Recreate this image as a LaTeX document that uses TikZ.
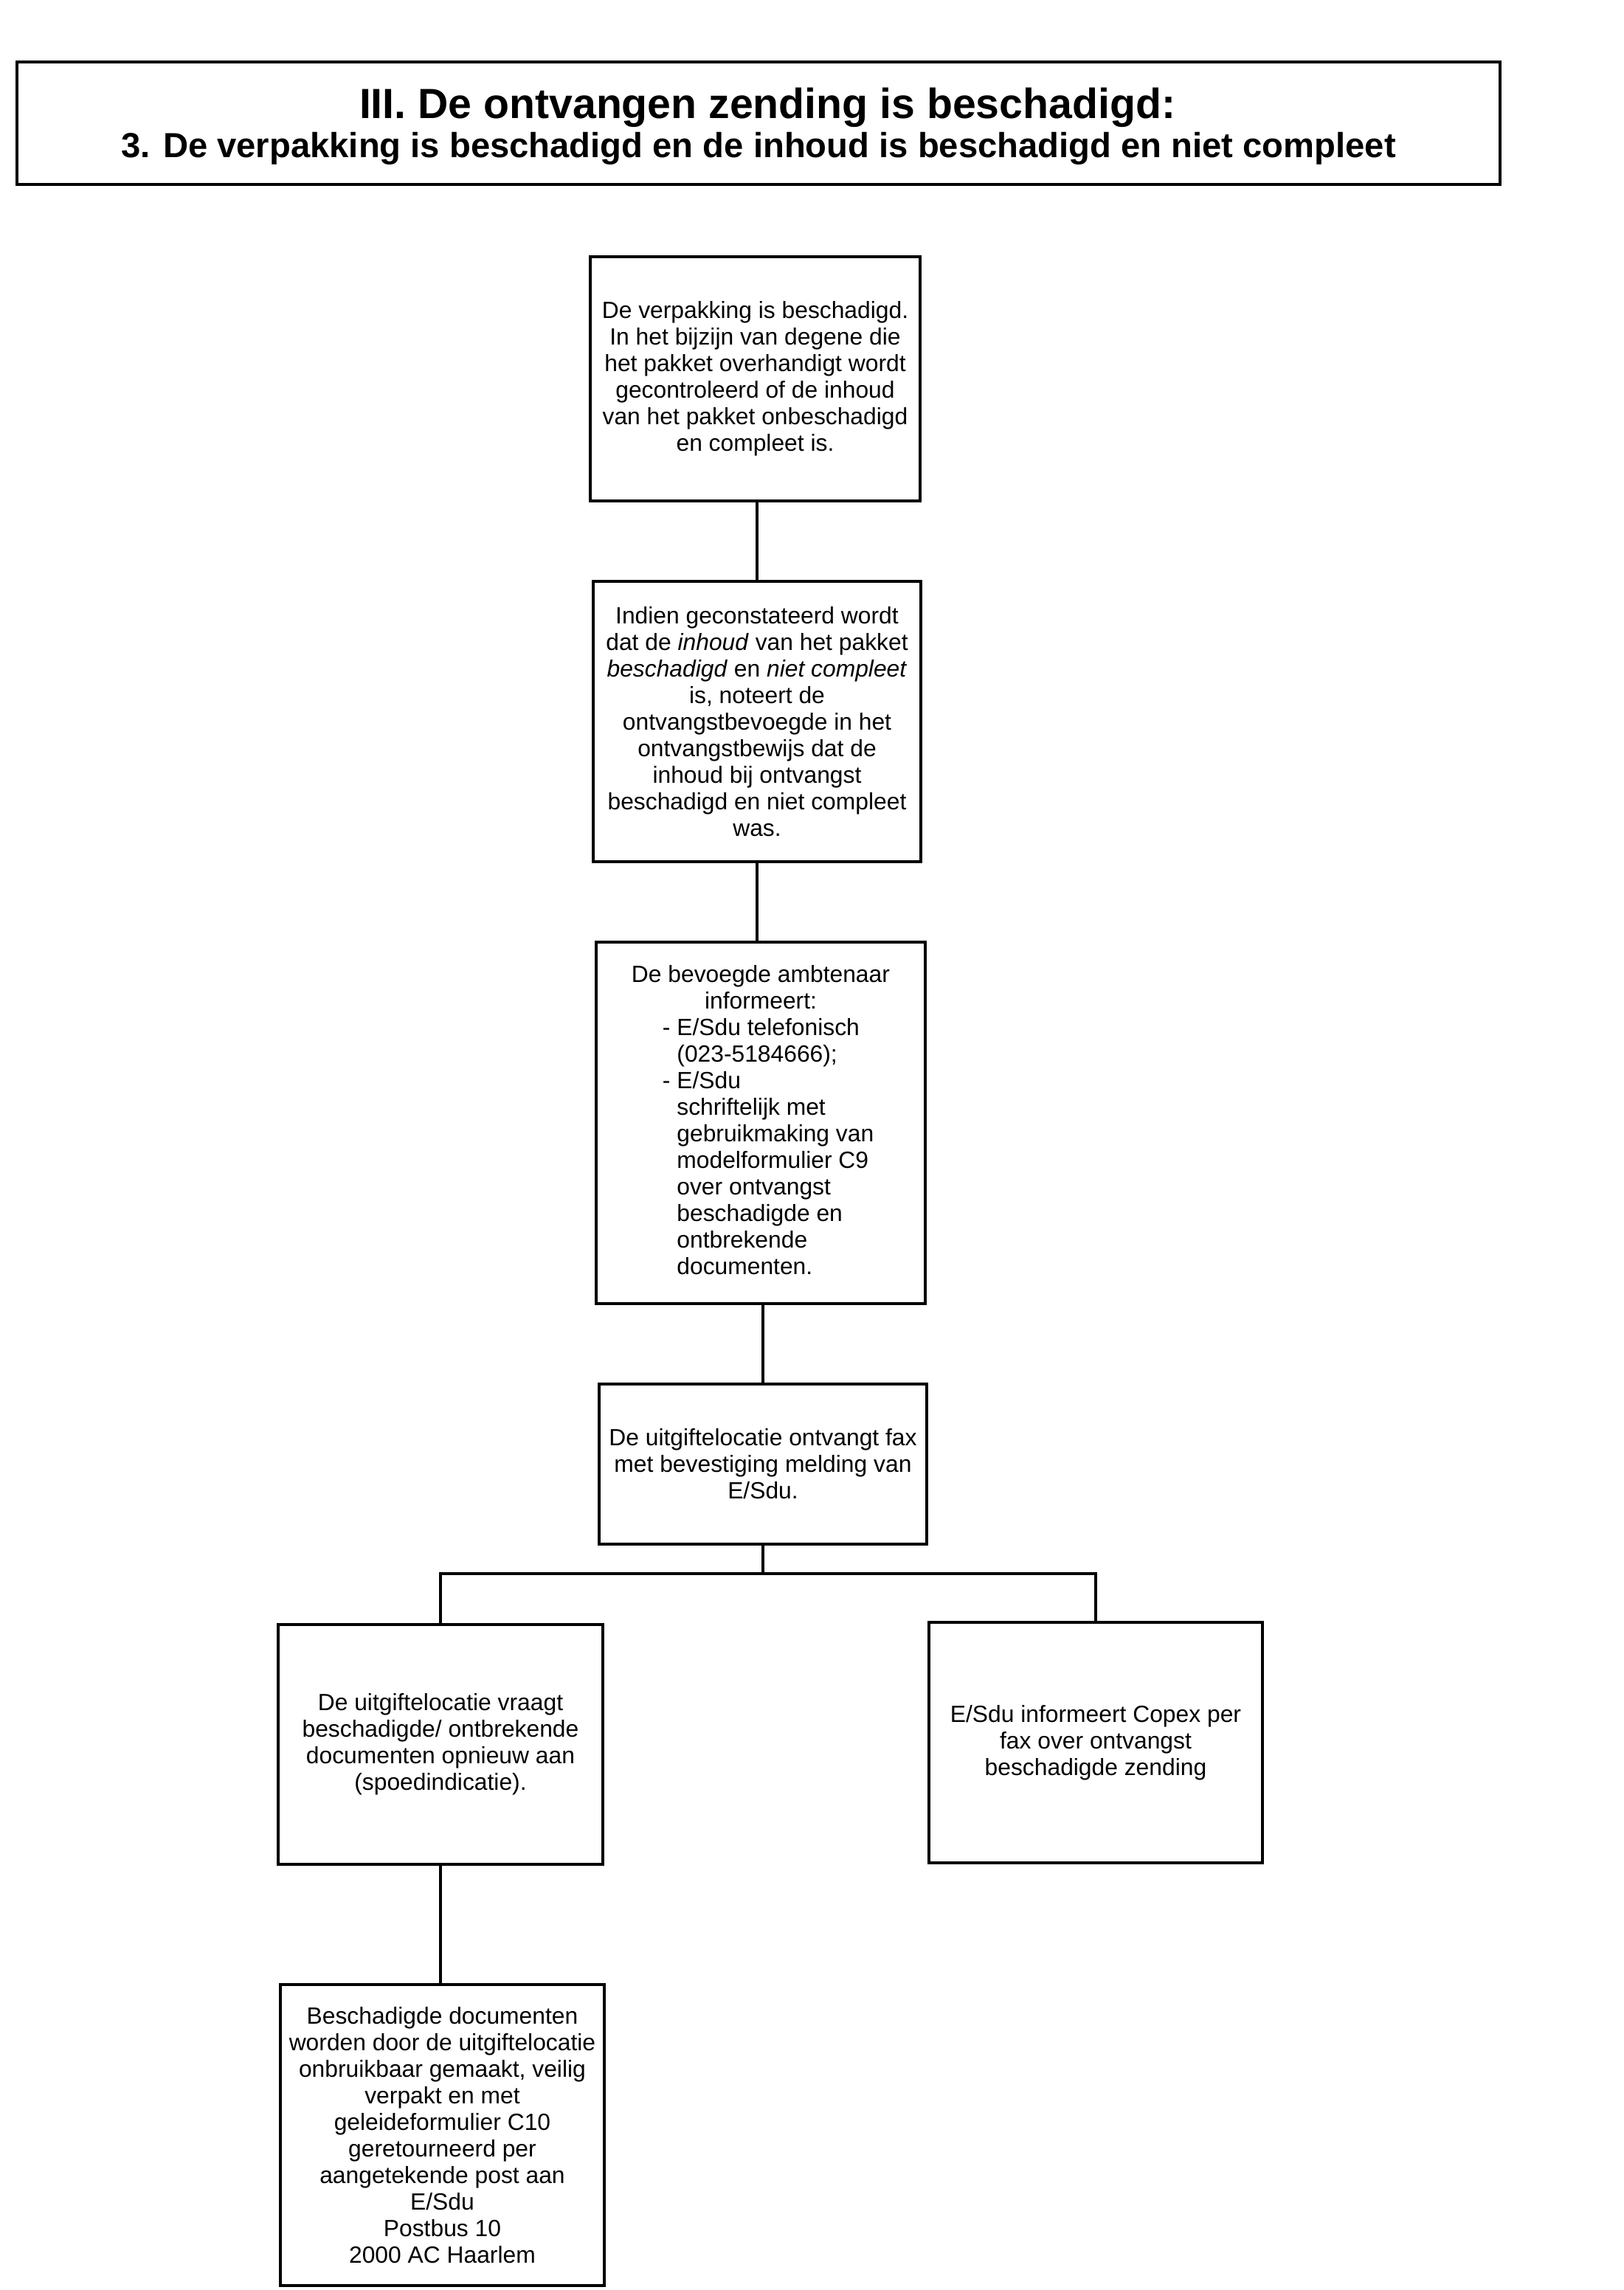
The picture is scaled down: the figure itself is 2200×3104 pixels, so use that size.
\documentclass[tikz,border=0pt]{standalone}
\usepackage{fontspec}
\setmainfont{Liberation Sans}
\begin{document}
\begin{tikzpicture}[x=0.25pt,y=-0.25pt,
  box/.style={draw=black, line width=0.9pt, rectangle, inner sep=0pt, align=center,
    font=\fontsize{7.95pt}{9pt}\selectfont},
  conn/.style={draw=black, line width=0.8pt},
  titleA/.style={anchor=base, inner sep=0pt, font=\fontsize{14.3pt}{16pt}\selectfont\bfseries},
  titleB/.style={anchor=base, inner sep=0pt, font=\fontsize{11.8pt}{14pt}\selectfont\bfseries}]
\useasboundingbox (0,0) rectangle (2200,3104);

% title
\node[draw=black, line width=0.9pt, rectangle, inner sep=0pt,
      minimum width=502.5pt, minimum height=41.5pt] (title) at (1028,167) {};
\node[titleA] (t1) at (1040,161) {III. De ontvangen zending is beschadigd:};
\node[titleB] (t2) at (1028,214) {3. De verpakking is beschadigd en de inhoud is beschadigd en niet compleet};

% boxes
\node[box, minimum width=111.75pt, minimum height=82.75pt] (b1) at (1023.5,513.5)
 {De verpakking is beschadigd.\\In het bijzijn van degene die\\het pakket overhandigt wordt\\gecontroleerd of de inhoud\\van het pakket onbeschadigd\\en compleet is.};

\node[box, minimum width=111pt, minimum height=95pt] (b2) at (1026,978)
 {Indien geconstateerd wordt\\dat de \textit{inhoud} van het pakket\\\textit{beschadigd} en \textit{niet compleet}\\is, noteert de\\ontvangstbevoegde in het\\ontvangstbewijs dat de\\inhoud bij ontvangst\\beschadigd en niet compleet\\was.};

\node[box, align=left, minimum width=111.5pt, minimum height=122.5pt] (b3) at (1031,1522)
 {\begin{tabular}{@{\hspace{10.5pt}}r@{\ }l@{}}
  \multicolumn{2}{@{}c@{}}{De bevoegde ambtenaar}\\
  \multicolumn{2}{@{}c@{}}{informeert:}\\
  - & E/Sdu telefonisch\\
    & (023-5184666);\\
  - & E/Sdu\\
    & schriftelijk met\\
    & gebruikmaking van\\
    & modelformulier C9\\
    & over ontvangst\\
    & beschadigde en\\
    & ontbrekende\\
    & documenten.
  \end{tabular}};

\node[box, minimum width=111pt, minimum height=54.25pt] (b4) at (1034,1984.5)
 {De uitgiftelocatie ontvangt fax\\met bevestiging melding van\\E/Sdu.};

\node[box, minimum width=110pt, minimum height=81.25pt] (b5) at (597,2364.5)
 {De uitgiftelocatie vraagt\\beschadigde/ ontbrekende\\documenten opnieuw aan\\(spoedindicatie).};

\node[box, minimum width=113pt, minimum height=81.5pt] (b6) at (1485,2362)
 {E/Sdu informeert Copex per\\fax over ontvangst\\beschadigde zending};

\node[box, minimum width=109.75pt, minimum height=102pt] (b7) at (599.5,2894)
 {Beschadigde documenten\\worden door de uitgiftelocatie\\onbruikbaar gemaakt, veilig\\verpakt en met\\geleideformulier C10\\geretourneerd per\\aangetekende post aan\\E/Sdu\\Postbus 10\\2000 AC Haarlem};

% connectors
\coordinate (j) at (1034,2133);
\draw[conn] (b1.south -| b2.north) -- (b2.north);
\draw[conn] (b2.south) -- (b2.south |- b3.north);
\draw[conn] (b3.south -| b4.north) -- (b4.north);
\draw[conn] (b4.south) -- (j);
\draw[conn] (b5.north) |- (j);
\draw[conn] (b6.north) |- (j);
\draw[conn] (b5.south) -- (b5.south |- b7.north);
\end{tikzpicture}
\end{document}
